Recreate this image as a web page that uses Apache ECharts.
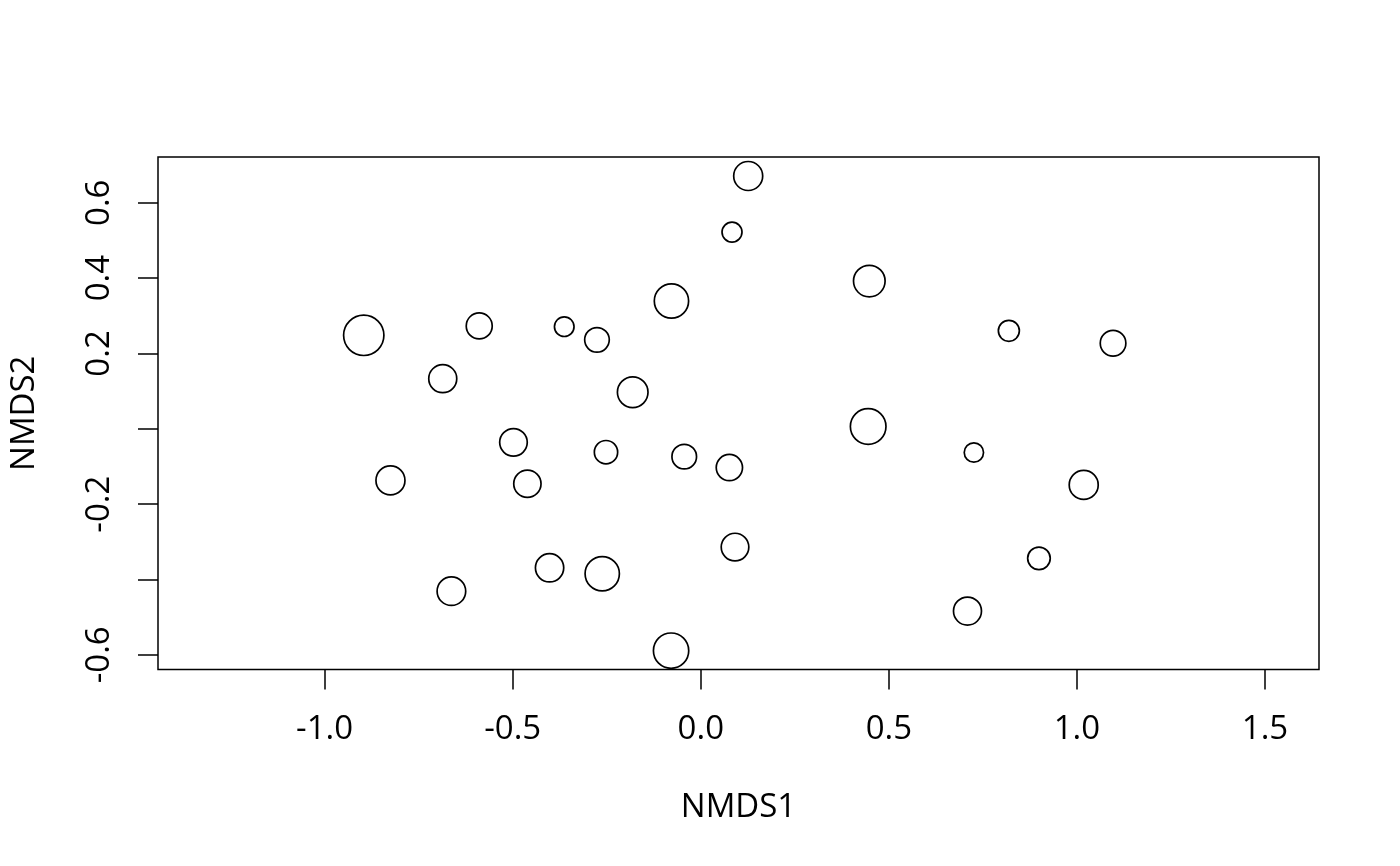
<!DOCTYPE html>
<html>
<head>
<meta charset="utf-8">
<script src="https://cdn.jsdelivr.net/npm/echarts@6/dist/echarts.min.js"></script>
<style>
html,body{margin:0;padding:0;background:#fff;}
#chart{width:1400px;height:866px;}
</style>
</head>
<body>
<div id="chart"></div>
<script>
// Site scores (NMDS ordination)
const nmds1 = [0.126, 0.083, -0.078, -0.896, -0.589, -0.363, -0.276, -0.686, -0.181,
               -0.498, -0.825, -0.461, -0.252, -0.044, 0.076, 0.091, -0.402, -0.262,
               -0.663, -0.079, 0.448, 0.819, 1.096, 0.445, 0.726, 1.018, 0.899, 0.709];
const nmds2 = [0.671, 0.522, 0.339, 0.248, 0.273, 0.271, 0.236, 0.133, 0.097,
               -0.036, -0.137, -0.146, -0.062, -0.074, -0.103, -0.314, -0.369, -0.385,
               -0.431, -0.589, 0.392, 0.260, 0.227, 0.006, -0.063, -0.149, -0.344, -0.484];
// bubble magnitude (relative abundance / cex-like value)
const magnitude = [3.07, 2.17, 3.60, 4.20, 2.77, 2.13, 2.63, 2.97, 3.23,
                   2.93, 3.07, 2.90, 2.50, 2.63, 2.80, 2.93, 3.00, 3.60,
                   3.03, 3.70, 3.33, 2.27, 2.73, 3.73, 2.10, 3.07, 2.43, 2.97];
const xTicks = [-1.0, -0.5, 0.0, 0.5, 1.0, 1.5];
const yTicks = [-0.6, -0.4, -0.2, 0.0, 0.2, 0.4, 0.6];
const yTickLabels = [-0.6, -0.2, 0.2, 0.4, 0.6];

const points = nmds1.map((x, i) => [x, nmds2[i], magnitude[i]]);

const FONT = 'Open Sans';
const STROKE = 1.7;

const chart = echarts.init(document.getElementById('chart'));
chart.setOption({
  animation: false,
  backgroundColor: '#fff',
  grid: {
    left: 157, top: 157, width: 1162, height: 512.5,
    show: true, borderColor: '#000', borderWidth: 1.5, backgroundColor: 'transparent'
  },
  xAxis: {
    type: 'value', min: -1.443, max: 1.6435,
    name: 'NMDS1', nameLocation: 'middle', nameGap: 122,
    nameTextStyle: {fontFamily: FONT, fontSize: 33, color: '#000'},
    axisLine: {show: false, onZero: false},
    splitLine: {show: false},
    axisTick: {show: true, inside: false, length: 20, customValues: xTicks,
               lineStyle: {color: '#000', width: 1.5}},
    axisLabel: {customValues: xTicks, margin: 44, fontFamily: FONT, fontSize: 33, color: '#000',
                formatter: v => v.toFixed(1)}
  },
  yAxis: {
    type: 'value', min: -0.639, max: 0.7214,
    name: 'NMDS2', nameLocation: 'middle', nameGap: 117,
    nameTextStyle: {fontFamily: FONT, fontSize: 33, color: '#000'},
    axisLine: {show: false, onZero: false},
    splitLine: {show: false},
    axisTick: {show: true, inside: false, length: 20, customValues: yTicks,
               lineStyle: {color: '#000', width: 1.5}},
    axisLabel: {customValues: yTickLabels, rotate: 90, margin: 42, fontFamily: FONT, fontSize: 33, color: '#000',
                formatter: v => v.toFixed(1)}
  },
  series: [{
    type: 'scatter',
    data: points,
    symbol: 'circle',
    symbolSize: d => d[2] * 10 - STROKE,
    itemStyle: {color: 'rgba(0,0,0,0)', borderColor: '#000', borderWidth: STROKE, opacity: 1},
    emphasis: {disabled: true}
  }]
});
</script>
</body>
</html>
